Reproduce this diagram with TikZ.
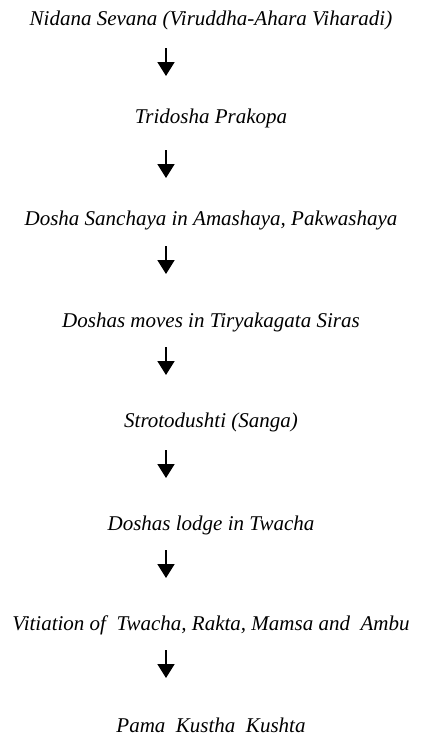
\documentclass[tikz,border=0pt]{standalone}
\usepackage{fontspec}
\setmainfont{Liberation Serif}
\usetikzlibrary{arrows.meta}
\begin{document}
\begin{tikzpicture}[x=1pt,y=-1pt,
  lbl/.style={font=\fontsize{21}{25}\selectfont\itshape, inner sep=0pt, anchor=base},
  flow/.style={line width=1.7pt, -{Triangle[width=17pt,length=14pt]}}]
\useasboundingbox[fill=white] (0,0) rectangle (421,740);
\node[lbl] (n1) at (211,25) {Nidana Sevana (Viruddha-Ahara Viharadi)};
\node[lbl] (n2) at (211,123) {Tridosha Prakopa};
\node[lbl] (n3) at (211,225) {Dosha Sanchaya in Amashaya, Pakwashaya};
\node[lbl] (n4) at (211,327) {Doshas moves in Tiryakagata Siras};
\node[lbl] (n5) at (211,427) {Strotodushti (Sanga)};
\node[lbl] (n6) at (211,530) {Doshas lodge in Twacha};
\node[lbl] (n7) at (211,630) {Vitiation of\ \ Twacha, Rakta, Mamsa and\ \ Ambu};
\node[lbl] (n8) at (211,732) {Pama\ \ Kustha\ \ Kushta};
\foreach \i/\t in {1/48,2/150,3/246,4/347,5/450,6/550,7/650}{
  \coordinate (s\i) at (166,\t);
  \coordinate (e\i) at (166,\t+28);
  \draw[flow] (s\i) -- (e\i);
}
\end{tikzpicture}
\end{document}
